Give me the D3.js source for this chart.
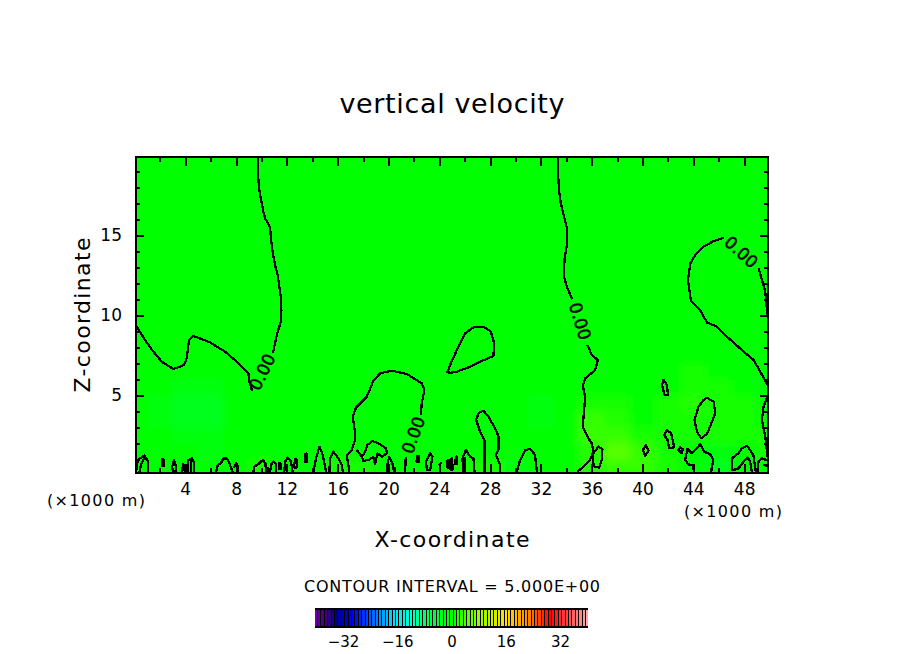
<!DOCTYPE html>
<html>
<head>
<meta charset="utf-8">
<title>vertical velocity</title>
<script src="https://d3js.org/d3.v7.min.js"></script>
<style>
	html, body { margin: 0; padding: 0; background: #fff; }
	svg { display: block; }
	text { font-family: "DejaVu Sans", sans-serif; fill: #000; }
	.contour { fill: none; stroke: #000; stroke-width: 2.3; stroke-linejoin: round; shape-rendering: crispEdges; }
	.tick line { stroke: #000; stroke-width: 2; shape-rendering: crispEdges; }
</style>
</head>
<body>
<div id="chart"></div>
<script>
// Axis ticks (x1000 m, z in km)
var xMajor = [4, 8, 12, 16, 20, 24, 28, 32, 36, 40, 44, 48];
var xMinor = [2, 6, 10, 14, 18, 22, 26, 30, 34, 38, 42, 46];
var zMajor = [5, 10, 15];
var zMinor = [1, 2, 3, 4, 6, 7, 8, 9, 11, 12, 13, 14, 16, 17, 18, 19];
var barTicks = [-32, -16, 0, 16, 32];

// Colour table of the bar
var colorStops = [-40, -37, -34, -29, -24, -17, -12, -7.5, -1.5, 0, 8, 16, 23, 29, 35, 40];
var colorValues = ["#6a00a0", "#400080", "#00008a", "#0000ee", "#0055ff", "#00ddff", "#00ffcc", "#00ff60",
	"#00ff08", "#00ff00", "#90ff00", "#ffe000", "#ff8000", "#ff0000", "#ff5050", "#ffaaaa"];
var barLevels = [-40, -39, -38, -37, -36, -35, -34, -33, -32, -31, -30, -29, -28, -27, -26, -25, -24, -23, -22, -21,
	-20, -19, -18, -17, -16, -15, -14, -13, -12, -11, -10, -9, -8, -7, -6, -5, -4, -3, -2, -1,
	0, 1, 2, 3, 4, 5, 6, 7, 8, 9, 10, 11, 12, 13, 14, 15, 16, 17, 18, 19,
	20, 21, 22, 23, 24, 25, 26, 27, 28, 29, 30, 31, 32, 33, 34, 35, 36, 37, 38, 39, 40];

// Shaded field: w, one list per height, columns every 2 km from x = 0
var fieldX = [0, 2, 4, 6, 8, 10, 12, 14, 16, 18, 20, 22, 24, 26, 28, 30, 32, 34, 36, 38, 40, 42, 44, 46, 48, 50];
var fieldZ = [0.5, 1.5, 2.5, 3.5, 4.5, 5.5, 6.5];
var w05 = [0, -1, -1, -1, 0, 1, 0, 0, 1, 1, 0, 0, 0, 1, 1, -2, -1, 0, 2, 3, 3, 1, -1, -3, -1, 0];
var w15 = [0, -1, -1, -2, 0, 0, 0, 0, 0, 0, 0, 0, 0, 0, 0, -1, -1, 0, 2, 5, 3, 1, 0, -2, 0, 1];
var w25 = [0, -1, -2, -2, 0, 0, 0, 0, 0, 0, 0, 0, 0, 0, 0, 0, -1, 0, 3, 3, 1, 1, 1, 1, 1, 1];
var w35 = [0, -2, -3, -3, -1, 0, 0, 0, 0, 0, 0, 0, 0, 0, 0, 0, -2, 0, 3, 2, 0, 1, 1, 1, 1, 0];
var w45 = [0, -2, -3, -3, -1, 0, 0, 0, 0, 0, 0, 0, 0, 0, 0, 0, -2, -1, 1, 1, 0, 1, 2, 1, 1, 0];
var w55 = [0, -1, -2, -2, 0, 0, 0, 0, 0, 0, 0, 0, 0, 0, 0, 0, 0, 0, 0, 0, 0, 0, 1, 1, 0, 0];
var w65 = [0, 0, 0, 0, 0, 0, 0, 0, 0, 0, 0, 0, 0, 0, 0, 0, 0, 0, 0, 0, 0, 0, 1, 0, 0, 0];
var fieldRows = [w05, w15, w25, w35, w45, w55, w65];

// Zero contour, pieces as [x, z]
var lineA = [[9.73,19.875],[9.73,18.75],[9.83,17.81],[10.02,17.0],[10.15,16.44],[10.31,16.0],[10.54,15.69],[10.68,15.44],[10.76,14.69],[10.89,13.88],[11.07,13.12],[11.28,12.5],[11.41,11.75],[11.52,11.12],[11.57,10.31],[11.52,9.56],[11.25,8.88],[11.07,8.25],[10.91,7.62]];
var lineB = [[0.13,9.35],[0.18,9.27],[0.83,8.44],[1.49,7.71],[2.15,7.08],[3.06,6.63],[3.46,6.73],[3.91,6.88],[4.12,7.31],[4.30,8.44],[4.64,8.69],[5.95,8.29],[7.13,7.71],[8.06,7.08],[8.97,6.36],[9.05,5.83],[9.26,5.25]];
var lineC = [[16.92,0.19],[16.72,1.25],[17.11,1.56],[17.37,2.19],[17.37,2.61],[17.19,3.64],[17.45,4.23],[18.29,4.89],[18.81,5.89],[19.34,6.36],[20.26,6.52],[21.44,6.31],[22.62,5.73],[22.83,5.31],[22.62,4.48],[22.54,3.75]];
var lineC2 = [[21.36,1.14],[21.31,0.19]];
var lineW = [[17.5,1.56],[17.9,1.14],[18.02,0.88],[18.42,0.94],[18.81,1.14],[18.94,0.67],[19.13,1.36],[19.47,1.14],[19.87,1.36],[19.81,1.67],[19.2,1.98],[18.73,2.13],[18.34,1.88],[18.16,1.46],[17.9,1.14]];
var lineD1 = [[33.35,19.875],[33.35,18.75],[33.43,17.77],[33.56,17.0],[33.82,16.14],[34.04,15.44],[34.04,14.37],[33.85,13.44],[33.82,12.39],[34.04,11.77],[34.46,10.98]];
var lineD2 = [[34.83,0.19],[35.35,0.52],[35.87,0.94],[36.13,1.46],[36.0,1.98],[35.74,2.29],[35.35,2.92],[35.3,3.12],[35.4,4.06],[35.48,4.89],[35.3,5.56],[35.48,6.04],[36.27,6.56],[36.48,7.19],[36.0,7.5],[35.66,8.13]];
var lineF1 = [[49.84,9.89],[49.79,10.31],[49.66,11.46],[49.4,12.19],[49.13,12.92]];
var lineF2 = [[46.38,14.83],[45.59,14.62],[44.8,14.27],[44.15,13.75],[43.76,13.23],[43.57,12.19],[43.81,10.89],[44.55,10.27],[45.08,9.52],[45.86,9.27],[46.65,8.64],[47.96,7.71],[48.74,7.19],[49.26,6.46],[49.84,5.63]];
var lineArc = [[49.84,4.94],[49.52,4.27],[49.4,3.44],[49.66,2.39],[49.84,1.14]];
var lineStem = [[27.55,0.19],[27.55,2.19],[27.21,2.71],[26.9,3.44],[27.08,3.86],[27.47,4.02],[27.87,3.64],[28.39,2.92],[28.65,2.44],[28.65,1.56],[28.45,1.25],[28.79,0.63],[28.79,0.19]];
var lineDome = [[30.1,0.19],[30.36,0.94],[30.76,1.56],[31.15,1.63],[31.54,1.25],[31.68,0.19]];
var lineL = [[45.4,0.19],[45.46,0.52],[45.58,0.94],[45.32,1.29],[44.85,1.46],[44.53,1.92],[44.22,1.63],[43.88,1.36],[43.54,1.63],[43.35,0.94],[43.61,0.67],[43.96,0.58],[44.06,0.19]];
var lineM = [[48.92,0.19],[48.73,1.21],[48.47,1.56],[48.21,1.83],[47.82,1.67],[47.56,1.36],[47.03,1.04],[47.03,0.31],[47.16,0.31],[47.56,0.42],[47.94,0.83],[48.26,1.11],[48.47,0.83],[48.6,0.19]];
var lineN = [[49.05,0.19],[49.13,0.83],[49.4,1.04],[49.79,0.94]];
var lineN2 = [[49.5,0.63],[49.81,0.58]];

// Low pieces along the ground
var ground = [
	[[0.13,0.19],[0.26,0.94],[0.78,1.21],[1.09,0.83],[1.05,0.19]],
	[[0.39,0.19],[0.52,0.63],[0.76,1.06]],
	[[3.72,0.19],[3.85,0.7],[3.97,0.19]],
	[[4.24,0.19],[4.24,0.94],[4.54,1.04],[4.67,0.83],[4.67,0.19]],
	[[4.46,0.94],[4.46,0.19]],
	[[6.43,0.19],[6.56,0.63],[6.82,0.75],[7,1.04],[7.27,1.04],[7.47,0.73],[7.61,0.44],[7.74,0.19]],
	[[7.82,0.44],[8,0.75],[8.18,0.52],[8.13,0.19]],
	[[9.36,0.19],[9.44,0.52],[9.83,0.73],[10.1,0.94],[10.31,0.73],[10.36,0.19]],
	[[10.5,0.5],[10.52,0.19]],
	[[10.68,0.19],[10.8,0.75],[10.95,0.85],[11.15,0.7],[11.15,0.19]],
	[[11.8,0.19],[11.86,0.83],[12.07,1.1],[12.33,0.83],[12.46,0.19]],
	[[14.09,0.19],[14.3,1.04],[14.56,1.77],[14.83,1.25],[15.09,0.19]],
	[[15.35,0.19],[15.4,1.04],[15.66,1.46],[16.06,1.04],[16.32,0.63],[16.4,0.19]],
	[[19.87,0.19],[19.87,0.52],[20.05,1.11],[20.31,0.73],[20.44,0.19]],
	[[20.54,0.5],[20.54,0.19]],
	[[23.98,0.6],[24.2,0.79]],
	[[25.25,0.6],[25.3,1.15],[25.4,1.15],[25.42,0.6]],
	[[25.9,0.19],[25.82,1.04],[26.09,1.56],[26.43,1.14],[26.69,1.04],[26.77,0.19]],
	[[26.03,1.1],[26.03,0.31]]
];

// Closed cells
var closedE = [[24.64,6.42],[24.85,6.88],[25.38,7.81],[26.03,8.86],[26.69,9.23],[27.47,9.27],[28.06,8.96],[28.32,8.23],[28.26,7.44],[27.21,7.08],[26.43,6.77],[25.38,6.46],[24.85,6.39]];
var closedG = [[45.07,4.83],[44.8,4.69],[44.4,4.27],[44.09,3.44],[44.28,2.71],[44.6,2.29],[45.07,2.56],[45.46,3.33],[45.72,3.86],[45.59,4.58]];
var closedH = [[41.65,5.94],[41.92,5.63],[42.0,5.0],[41.73,5.0],[41.53,5.63]];
var closedI = [[41.92,2.81],[42.25,2.61],[42.49,1.73],[42.1,1.67],[41.96,2.19],[41.7,2.5]];
var closedJ = [[40.26,1.88],[40.47,1.52],[40.21,1.19],[40.03,1.56]];
var closedK = [[42.96,1.73],[43.17,1.61],[43.09,1.36],[42.83,1.56]];
var closedP = [[36.13,1.36],[36.53,1.77],[36.84,1.63],[36.79,0.94],[36.58,0.46],[36.21,0.52],[36.09,0.83]];
var closedSmall = [
	[[2.15,0.6],[2.2,1.0],[2.3,0.95],[2.35,0.6],[2.25,0.55]],
	[[2.96,0.5],[3.12,0.94],[3.28,0.5],[3.25,0.25],[3.04,0.25]],
	[[11.37,0.4],[11.4,0.75],[11.5,0.75],[11.55,0.4]],
	[[12.55,0.5],[12.65,1.0],[12.75,1.0],[12.8,0.5],[12.68,0.45]],
	[[13.4,0.85],[13.45,1.3],[13.55,1.35],[13.6,0.85],[13.5,0.8]],
	[[22.2,0.85],[22.27,1.2],[22.37,1.2],[22.42,0.85],[22.32,0.8]],
	[[23.02,0.31],[22.96,0.83],[23.28,1.36],[23.46,1.14],[23.28,0.31]],
	[[24.6,0.5],[24.66,0.94],[24.74,0.94],[24.8,0.5],[24.7,0.45]],
	[[24.88,0.35],[24.92,1.0],[25.0,1.05],[25.06,0.35]]
];

// Contour labels: x, z, angle
var labelX = [10.05, 21.94, 35.09, 47.77];
var labelZ = [6.44, 2.5, 9.62, 13.94];
var labelAngle = [-64, -70, 73, 42];

var width = 904, height = 654;

var svg = d3.select("#chart").append("svg")
	.attr("width", width)
	.attr("height", height);

var x = d3.scaleLinear().domain([0.125, 49.875]).range([136, 768]);
var y = d3.scaleLinear().domain([0.125, 19.875]).range([473, 157]);
var color = d3.scaleLinear().domain(colorStops).range(colorValues);

var defs = svg.append("defs");
defs.append("clipPath").attr("id", "plot-clip").append("rect")
	.attr("x", x.range()[0]).attr("y", y.range()[1])
	.attr("width", x.range()[1] - x.range()[0])
	.attr("height", y.range()[0] - y.range()[1]);
defs.append("filter").attr("id", "soft")
	.attr("x", "-5%").attr("y", "-20%").attr("width", "110%").attr("height", "140%")
	.append("feGaussianBlur").attr("stdDeviation", 5);

// shaded field
var plot = svg.append("g").attr("clip-path", "url(#plot-clip)");
plot.append("rect")
	.attr("x", x.range()[0]).attr("y", y.range()[1])
	.attr("width", x.range()[1] - x.range()[0])
	.attr("height", y.range()[0] - y.range()[1])
	.attr("fill", color(0));

var cells = [];
fieldRows.forEach(function(row, i) {
	row.forEach(function(v, j) {
		cells.push({ x: fieldX[j], z: fieldZ[i], w: v });
	});
});
plot.append("g").attr("filter", "url(#soft)")
	.selectAll("rect")
	.data(cells)
	.enter().append("rect")
	.attr("x", function(d) { return x(d.x - 1); })
	.attr("y", function(d) { return y(d.z + 0.5); })
	.attr("width", x(2) - x(0) + 0.5)
	.attr("height", y(0) - y(1) + 0.5)
	.attr("fill", function(d) { return color(d.w); });

// contours
var linePath = d3.line().x(function(d) { return x(d[0]); }).y(function(d) { return y(d[1]); });
var closedPath = d3.line().x(function(d) { return x(d[0]); }).y(function(d) { return y(d[1]); }).curve(d3.curveLinearClosed);

var openLines = [lineA, lineB, lineC, lineC2, lineW, lineD1, lineD2, lineF1, lineF2, lineArc, lineStem, lineDome, lineL, lineM, lineN, lineN2].concat(ground);
var closedLines = [closedE, closedG, closedH, closedI, closedJ, closedK, closedP].concat(closedSmall);

plot.selectAll(".open").data(openLines).enter().append("path")
	.attr("class", "contour open").attr("d", linePath);
plot.selectAll(".shut").data(closedLines).enter().append("path")
	.attr("class", "contour shut").attr("d", closedPath);

labelX.forEach(function(lx, i) {
	plot.append("text")
		.attr("transform", "translate(" + x(lx) + "," + y(labelZ[i]) + ") rotate(" + labelAngle[i] + ")")
		.attr("text-anchor", "middle")
		.attr("dy", "0.36em")
		.style("font-size", "17px")
		.style("stroke", "#000")
		.style("stroke-width", "0.5px")
		.text("0.00");
});

// axes: ticks all point into the plot
function noDomain(g) { g.select(".domain").remove(); }
var fmt = function(d) { return String(d).replace("-", "\u2212"); };

function ticks(gen, values, size, tx, ty, labels, pad) {
	var g = svg.append("g").attr("transform", "translate(" + tx + "," + ty + ")")
		.call(gen.tickValues(values).tickSize(-size).tickPadding(pad || 3).tickFormat(labels ? fmt : ""))
		.call(noDomain);
	g.attr("font-family", null).attr("font-size", null);
	g.selectAll("text").style("font-size", "17px");
	return g;
}

var left = x.range()[0], right = x.range()[1], bottom = y.range()[0], top_ = y.range()[1];
ticks(d3.axisBottom(x), xMinor, 5, 0, bottom, false);
ticks(d3.axisBottom(x), xMajor, 9, 0, bottom, true, 10);
ticks(d3.axisTop(x), xMinor, 5, 0, top_, false);
ticks(d3.axisTop(x), xMajor, 9, 0, top_, false);
ticks(d3.axisLeft(y), zMinor, 4, left, 0, false);
ticks(d3.axisLeft(y), zMajor, 8, left, 0, true, 14);
ticks(d3.axisRight(y), zMinor, 4, right, 0, false);
ticks(d3.axisRight(y), zMajor, 8, right, 0, false);

svg.append("rect")
	.attr("x", left).attr("y", top_)
	.attr("width", right - left).attr("height", bottom - top_)
	.attr("fill", "none").attr("stroke", "#000").attr("stroke-width", 2)
	.attr("shape-rendering", "crispEdges");

// titles
function label(str, cx, cy, size, len) {
	return svg.append("text")
		.attr("x", cx).attr("y", cy)
		.attr("text-anchor", "middle")
		.attr("textLength", len)
		.attr("lengthAdjust", "spacing")
		.style("font-size", size + "px")
		.text(str);
}
label("vertical velocity", 452, 113, 27, 225);
label("X-coordinate", 452, 547, 22, 155);
label("(\u00d71000 m)", 96, 506, 16, 98);
label("(\u00d71000 m)", 733, 517, 16, 98);
label("CONTOUR INTERVAL = 5.000E+00", 452, 592, 16, 296);
svg.append("text")
	.attr("transform", "translate(90,315) rotate(-90)")
	.attr("text-anchor", "middle")
	.attr("textLength", 155)
	.attr("lengthAdjust", "spacing")
	.style("font-size", "22px")
	.text("Z-coordinate");

// colour bar
var barX = d3.scaleLinear().domain([-40.25, 40.25]).range([315, 588]);
var barTop = 608, barH = 20;
svg.append("rect")
	.attr("x", barX.range()[0]).attr("y", barTop)
	.attr("width", barX.range()[1] - barX.range()[0]).attr("height", barH)
	.attr("fill", "#000");
svg.append("g").selectAll("rect")
	.data(barLevels)
	.enter().append("rect")
	.attr("x", function(d) { return barX(d) - 1.2; })
	.attr("y", barTop + 2)
	.attr("width", 2.4)
	.attr("height", barH - 4)
	.attr("fill", function(d) { return color(d); })
	.attr("shape-rendering", "crispEdges");

var barAxis = svg.append("g").attr("transform", "translate(0," + (barTop + barH) + ")")
	.call(d3.axisBottom(barX).tickValues(barTicks).tickSize(0).tickPadding(8).tickFormat(fmt))
	.call(noDomain);
barAxis.attr("font-family", null).attr("font-size", null);
barAxis.selectAll("text").style("font-size", "15px");
</script>
</body>
</html>
